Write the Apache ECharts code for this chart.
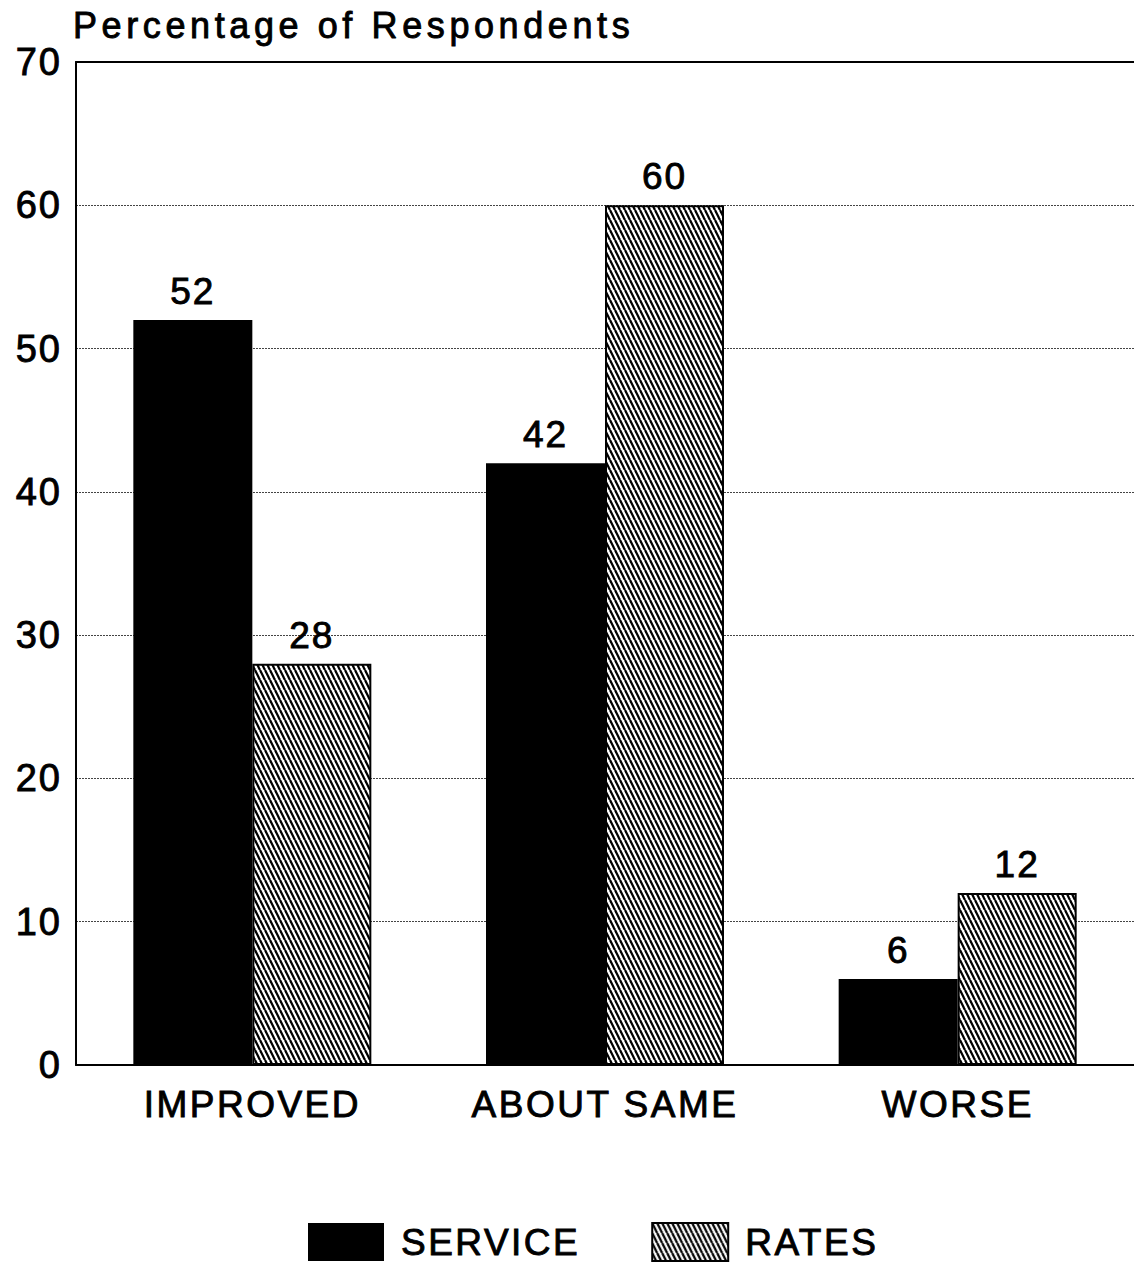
<!DOCTYPE html>
<html>
<head>
<meta charset="utf-8">
<script src="https://cdn.jsdelivr.net/npm/echarts@6/dist/echarts.min.js"></script>
<style>
  html, body { margin: 0; padding: 0; background: #fff; }
  #chart { width: 1134px; height: 1262px; }
</style>
</head>
<body>
<div id="chart"></div>
<script>
// Survey responses: change in service and rates
const categories = ['IMPROVED', 'ABOUT SAME', 'WORSE'];
const serviceValues = [52, 42, 6];
const ratesValues = [28, 60, 12];
const seriesNames = ['SERVICE', 'RATES'];
const titleText = 'Percentage of Respondents';
const yMin = 0;
const yMax = 70;
const yStep = 10;

// Diagonal hatch tile for the RATES bars
function makeHatch() {
  const w = 5, h = 10;
  const c = document.createElement('canvas');
  c.width = w; c.height = h;
  const ctx = c.getContext('2d');
  ctx.fillStyle = '#fff';
  ctx.fillRect(0, 0, w, h);
  ctx.strokeStyle = '#000';
  ctx.lineWidth = 2.3;
  for (let k = -1; k <= 1; k++) {
    ctx.beginPath();
    ctx.moveTo(k * w, 0);
    ctx.lineTo(k * w + w, h);
    ctx.stroke();
  }
  return c;
}
const hatch = { image: makeHatch(), repeat: 'repeat', imageWidth: 5, imageHeight: 10 };

const FONT = 'Liberation Sans';
// slightly heavier strokes for all text
const ink = { color: '#000', textBorderColor: '#000', textBorderWidth: 0.9 };

const chart = echarts.init(document.getElementById('chart'), null, { renderer: 'svg' });

chart.setOption({
  animation: false,
  backgroundColor: '#fff',
  title: {
    text: titleText,
    left: 73,
    top: 7,
    padding: 0,
    textStyle: Object.assign({ fontFamily: FONT, fontSize: 36, fontWeight: 'normal' }, ink)
  },
  legend: {
    data: seriesNames,
    left: 308,
    top: 1222,
    padding: 0,
    icon: 'rect',
    itemWidth: 76,
    itemHeight: 38,
    itemGap: 88,
    selectedMode: false,
    textStyle: Object.assign({ fontFamily: FONT, fontSize: 37, padding: [0, 0, 0, 12] }, ink)
  },
  grid: { left: 76, right: -7, top: 62, bottom: 197, containLabel: false },
  xAxis: [
    {
      type: 'category',
      data: categories,
      axisLine: { show: true, lineStyle: { color: '#000', width: 2 } },
      axisTick: { show: false },
      axisLabel: Object.assign({ margin: 21, fontFamily: FONT, fontSize: 37 }, ink)
    },
    {
      type: 'category',
      position: 'top',
      data: categories,
      axisLine: { show: true, lineStyle: { color: '#000', width: 2 } },
      axisTick: { show: false },
      axisLabel: { show: false }
    }
  ],
  yAxis: {
    type: 'value',
    min: yMin,
    max: yMax,
    interval: yStep,
    axisLine: { show: true, lineStyle: { color: '#000', width: 2 } },
    axisTick: { show: false },
    axisLabel: Object.assign({ margin: 14, fontFamily: FONT, fontSize: 38 }, ink),
    splitLine: { show: true, lineStyle: { color: '#444', width: 1, type: [2, 1] } }
  },
  series: [
    {
      name: seriesNames[0],
      type: 'bar',
      data: serviceValues,
      barWidth: 119,
      barGap: '0%',
      itemStyle: { color: '#000' },
      label: Object.assign({ show: true, position: 'top', distance: 10, fontFamily: FONT, fontSize: 37 }, ink)
    },
    {
      name: seriesNames[1],
      type: 'bar',
      data: ratesValues,
      barWidth: 119,
      barGap: '0%',
      itemStyle: { color: hatch, borderColor: '#000', borderWidth: 2 },
      label: Object.assign({ show: true, position: 'top', distance: 10, fontFamily: FONT, fontSize: 37 }, ink)
    }
  ]
});

// Widen the tracking of the title and the upper-case labels
function applySpacing() {
  const caps = categories.concat(seriesNames);
  document.querySelectorAll('#chart text').forEach(function (t) {
    const s = t.textContent;
    if (s === titleText) t.style.letterSpacing = '4.6px';
    else if (caps.indexOf(s) >= 0) t.style.letterSpacing = '2.5px';
    else if (/^\d+$/.test(s)) t.style.letterSpacing = '2px';
  });
}
applySpacing();
chart.on('finished', applySpacing);
setTimeout(applySpacing, 50);
</script>
</body>
</html>
